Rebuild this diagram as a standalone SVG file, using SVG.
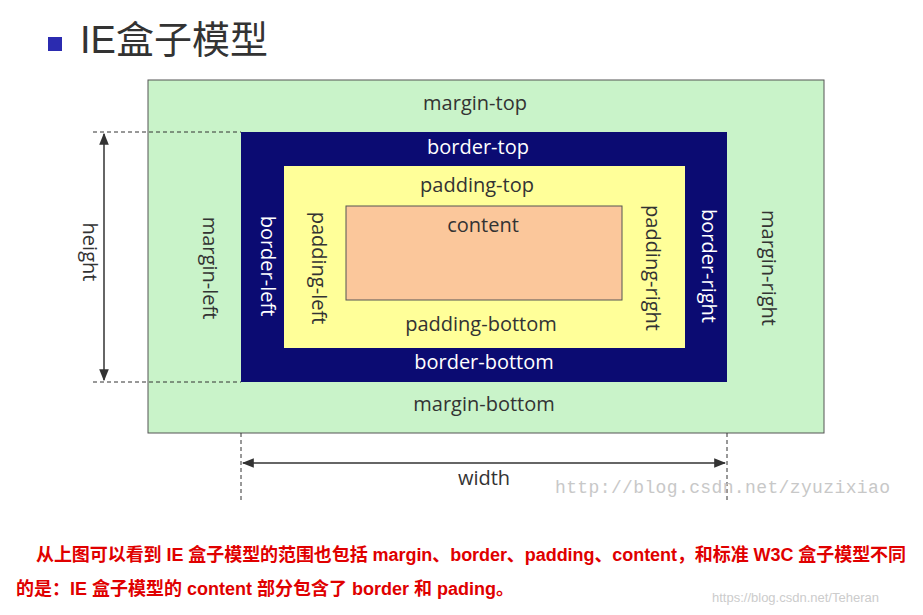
<svg xmlns="http://www.w3.org/2000/svg" width="923" height="615" viewBox="0 0 923 615">
<style>
.l{font-family:"Open Sans","Liberation Sans",sans-serif;font-size:20px;fill:#333;text-anchor:middle;dominant-baseline:middle}
.w{fill:#fff}
.d{stroke:#333;stroke-width:1;stroke-dasharray:4,3;fill:none}
.a{stroke:#333;stroke-width:1.5;fill:none;marker-start:url(#m);marker-end:url(#m)}
.r{font-family:"Liberation Sans","Noto Sans CJK SC",sans-serif;font-size:18px;font-weight:bold;fill:#e00000}
</style>
<defs><marker id="m" viewBox="0 0 10 10" refX="9" refY="5" markerWidth="8" markerHeight="8" orient="auto-start-reverse"><path d="M0,1 L10,5 L0,9 z" fill="#333"/></marker></defs>
<rect width="923" height="615" fill="#fff"/>
<g id="title"><rect x="48" y="37" width="14" height="14" fill="#2b2bb0"/><text x="80" y="53" font-family="Liberation Sans,Noto Sans CJK SC,sans-serif" font-size="38" fill="#333">IE盒子模型</text></g>
<g id="margin"><rect x="148" y="80" width="676" height="353" fill="#c9f3c9" stroke="#555"/>
<text class="l" x="475" y="105">margin-top</text><text class="l" x="484" y="406">margin-bottom</text>
<text class="l" transform="translate(208,268) rotate(90)">margin-left</text><text class="l" transform="translate(767,268) rotate(90)">margin-right</text></g>
<g id="border"><rect x="241" y="132" width="486" height="250" fill="#0b0b72"/>
<text class="l w" x="478" y="149">border-top</text><text class="l w" x="484" y="364">border-bottom</text>
<text class="l w" transform="translate(266,266) rotate(90)">border-left</text><text class="l w" transform="translate(707,266) rotate(90)">border-right</text></g>
<g id="padding"><rect x="284" y="166" width="401" height="182" fill="#ffff99"/>
<text class="l" x="477" y="187">padding-top</text><text class="l" x="481" y="326">padding-bottom</text>
<text class="l" transform="translate(317,268) rotate(90)">padding-left</text><text class="l" transform="translate(651,268) rotate(90)">padding-right</text></g>
<g id="content"><rect x="346" y="206" width="276" height="94" fill="#fbc79b" stroke="#555"/><text class="l" x="483" y="227">content</text></g>
<g id="connectors">
<path class="d" d="M93,132H241M93,382H241M241,433V500M727,433V500"/>
<path class="a" d="M104,134V380"/><path class="a" d="M243,463H725"/>
</g>
<text class="l" transform="translate(88,252) rotate(90)">height</text>
<text class="l" x="484" y="480">width</text>
<text x="555" y="493" font-family="Liberation Mono,monospace" font-size="18" fill="#c8c8c8" textLength="335">http://blog.csdn.net/zyuzixiao</text>
<text class="r" x="36" y="561" textLength="870">从上图可以看到 IE 盒子模型的范围也包括 margin、border、padding、content，和标准 W3C 盒子模型不同</text>
<text class="r" x="16" y="595">的是：IE 盒子模型的 content 部分包含了 border 和 pading。</text>
<text x="712" y="602" font-family="Liberation Sans,sans-serif" font-size="13" fill="#ccc">https://blog.csdn.net/Teheran</text>
</svg>
